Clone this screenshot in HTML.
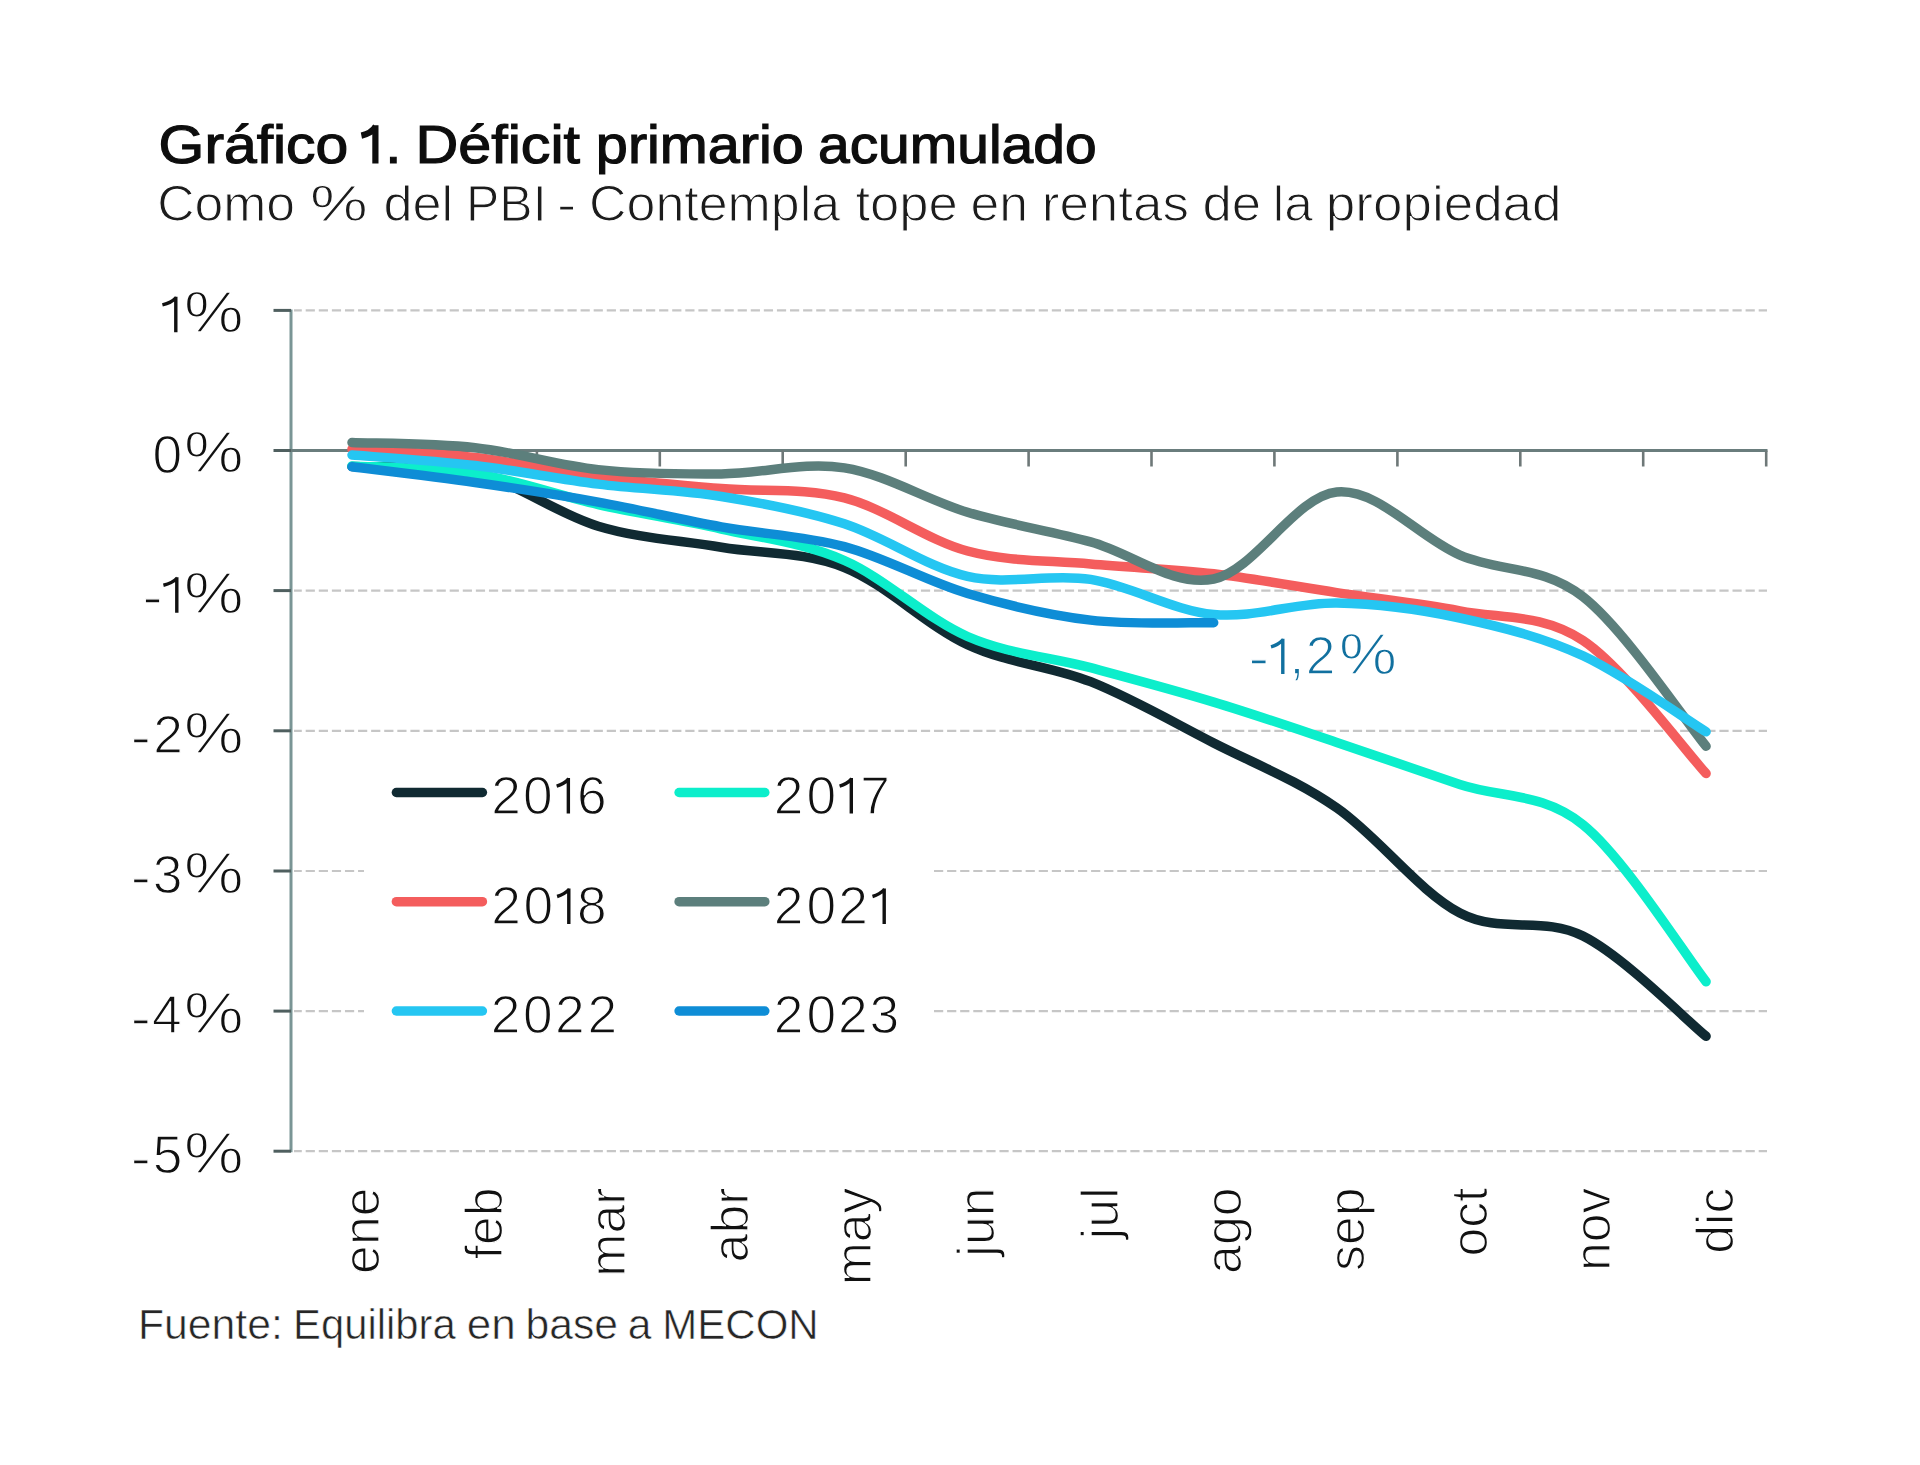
<!DOCTYPE html><html><head><meta charset="utf-8"><style>html,body{margin:0;padding:0;background:#fff;}body{width:1920px;height:1465px;overflow:hidden;}svg{display:block;font-family:"Liberation Sans",sans-serif;}</style></head><body>
<svg width="1920" height="1465" viewBox="0 0 1920 1465">
<rect width="1920" height="1465" fill="#fff"/>
<g>
<text x="158.63" y="163.00" font-size="54.00" fill="#0d0d0d" stroke="#0d0d0d" stroke-width="1.2" textLength="189.64" lengthAdjust="spacingAndGlyphs">Gráfico</text>
<text x="385.25" y="163.00" font-size="54.00" fill="#0d0d0d" stroke="#0d0d0d" stroke-width="1.2" textLength="16.18" lengthAdjust="spacingAndGlyphs">.</text>
<text x="415.54" y="163.00" font-size="54.00" fill="#0d0d0d" stroke="#0d0d0d" stroke-width="1.2" textLength="164.52" lengthAdjust="spacingAndGlyphs">Déficit</text>
<text x="595.89" y="163.00" font-size="54.00" fill="#0d0d0d" stroke="#0d0d0d" stroke-width="1.2" textLength="207.93" lengthAdjust="spacingAndGlyphs">primario</text>
<text x="817.98" y="163.00" font-size="54.00" fill="#0d0d0d" stroke="#0d0d0d" stroke-width="1.2" textLength="278.62" lengthAdjust="spacingAndGlyphs">acumulado</text>
<path d="M375.4,163.4 V125.2 M375.9,126.2 Q371.5,133.5 361.4,135.6" fill="none" stroke="#0d0d0d" stroke-width="6.2"/>
<text x="157.23" y="221.30" font-size="50.60" fill="#1c1c1c" stroke="#fff" stroke-width="1.1" textLength="137.92" lengthAdjust="spacingAndGlyphs">Como</text>
<text x="309.94" y="221.30" font-size="50.60" fill="#1c1c1c" stroke="#fff" stroke-width="1.1" textLength="57.77" lengthAdjust="spacingAndGlyphs">%</text>
<text x="383.43" y="221.30" font-size="50.60" fill="#1c1c1c" stroke="#fff" stroke-width="1.1" textLength="69.65" lengthAdjust="spacingAndGlyphs">del</text>
<text x="466.10" y="221.30" font-size="50.60" fill="#1c1c1c" stroke="#fff" stroke-width="1.1" textLength="80.43" lengthAdjust="spacingAndGlyphs">PBI</text>
<text x="557.08" y="221.30" font-size="50.60" fill="#1c1c1c" stroke="#fff" stroke-width="1.1" textLength="19.23" lengthAdjust="spacingAndGlyphs">-</text>
<text x="589.01" y="221.30" font-size="50.60" fill="#1c1c1c" stroke="#fff" stroke-width="1.1" textLength="251.15" lengthAdjust="spacingAndGlyphs">Contempla</text>
<text x="855.46" y="221.30" font-size="50.60" fill="#1c1c1c" stroke="#fff" stroke-width="1.1" textLength="102.46" lengthAdjust="spacingAndGlyphs">tope</text>
<text x="970.46" y="221.30" font-size="50.60" fill="#1c1c1c" stroke="#fff" stroke-width="1.1" textLength="57.48" lengthAdjust="spacingAndGlyphs">en</text>
<text x="1041.74" y="221.30" font-size="50.60" fill="#1c1c1c" stroke="#fff" stroke-width="1.1" textLength="147.35" lengthAdjust="spacingAndGlyphs">rentas</text>
<text x="1202.44" y="221.30" font-size="50.60" fill="#1c1c1c" stroke="#fff" stroke-width="1.1" textLength="58.72" lengthAdjust="spacingAndGlyphs">de</text>
<text x="1272.74" y="221.30" font-size="50.60" fill="#1c1c1c" stroke="#fff" stroke-width="1.1" textLength="40.02" lengthAdjust="spacingAndGlyphs">la</text>
<text x="1325.83" y="221.30" font-size="50.60" fill="#1c1c1c" stroke="#fff" stroke-width="1.1" textLength="235.74" lengthAdjust="spacingAndGlyphs">propiedad</text>
<line x1="294" y1="310.4" x2="1767" y2="310.4" stroke="#c6c6c6" stroke-width="2.2" stroke-dasharray="9.2,3.89" stroke-dashoffset="1.4"/>
<line x1="294" y1="590.6" x2="1767" y2="590.6" stroke="#c6c6c6" stroke-width="2.2" stroke-dasharray="9.2,3.89" stroke-dashoffset="1.4"/>
<line x1="294" y1="730.8" x2="1767" y2="730.8" stroke="#c6c6c6" stroke-width="2.2" stroke-dasharray="9.2,3.89" stroke-dashoffset="1.4"/>
<line x1="294" y1="871.0" x2="1767" y2="871.0" stroke="#c6c6c6" stroke-width="2.2" stroke-dasharray="9.2,3.89" stroke-dashoffset="1.4"/>
<line x1="294" y1="1011.1" x2="1767" y2="1011.1" stroke="#c6c6c6" stroke-width="2.2" stroke-dasharray="9.2,3.89" stroke-dashoffset="1.4"/>
<line x1="294" y1="1151.2" x2="1767" y2="1151.2" stroke="#c6c6c6" stroke-width="2.2" stroke-dasharray="9.2,3.89" stroke-dashoffset="1.4"/>
<rect x="364" y="745" width="567" height="320" fill="#fff"/>
<line x1="291" y1="309.4" x2="291" y2="1152.2" stroke="#7a9595" stroke-width="3"/>
<line x1="273.5" y1="310.4" x2="291" y2="310.4" stroke="#4f5f5f" stroke-width="3"/>
<line x1="273.5" y1="450.5" x2="291" y2="450.5" stroke="#4f5f5f" stroke-width="3"/>
<line x1="273.5" y1="590.6" x2="291" y2="590.6" stroke="#4f5f5f" stroke-width="3"/>
<line x1="273.5" y1="730.8" x2="291" y2="730.8" stroke="#4f5f5f" stroke-width="3"/>
<line x1="273.5" y1="871.0" x2="291" y2="871.0" stroke="#4f5f5f" stroke-width="3"/>
<line x1="273.5" y1="1011.1" x2="291" y2="1011.1" stroke="#4f5f5f" stroke-width="3"/>
<line x1="273.5" y1="1151.2" x2="291" y2="1151.2" stroke="#4f5f5f" stroke-width="3"/>
<line x1="291" y1="450.5" x2="1767.5" y2="450.5" stroke="#6a7d7d" stroke-width="3"/>
<line x1="413.9" y1="450.5" x2="413.9" y2="466.5" stroke="#6e7878" stroke-width="2.6"/>
<line x1="536.9" y1="450.5" x2="536.9" y2="466.5" stroke="#6e7878" stroke-width="2.6"/>
<line x1="659.8" y1="450.5" x2="659.8" y2="466.5" stroke="#6e7878" stroke-width="2.6"/>
<line x1="782.7" y1="450.5" x2="782.7" y2="466.5" stroke="#6e7878" stroke-width="2.6"/>
<line x1="905.7" y1="450.5" x2="905.7" y2="466.5" stroke="#6e7878" stroke-width="2.6"/>
<line x1="1028.6" y1="450.5" x2="1028.6" y2="466.5" stroke="#6e7878" stroke-width="2.6"/>
<line x1="1151.5" y1="450.5" x2="1151.5" y2="466.5" stroke="#6e7878" stroke-width="2.6"/>
<line x1="1274.4" y1="450.5" x2="1274.4" y2="466.5" stroke="#6e7878" stroke-width="2.6"/>
<line x1="1397.4" y1="450.5" x2="1397.4" y2="466.5" stroke="#6e7878" stroke-width="2.6"/>
<line x1="1520.3" y1="450.5" x2="1520.3" y2="466.5" stroke="#6e7878" stroke-width="2.6"/>
<line x1="1643.2" y1="450.5" x2="1643.2" y2="466.5" stroke="#6e7878" stroke-width="2.6"/>
<line x1="1766.2" y1="450.5" x2="1766.2" y2="466.5" stroke="#6e7878" stroke-width="2.6"/>
<g transform="translate(0,332.35) scale(1,1.070) translate(0,-332.35)"><text x="183.96" y="332.35" font-size="53.30" fill="#111" stroke="#fff" stroke-width="1.30" textLength="59.58" lengthAdjust="spacingAndGlyphs">%</text></g>
<path d="M175.80,332.35 V296.85 M176.40,297.55 Q171.30,302.85 162.40,304.95" fill="none" stroke="#111" stroke-width="3.40" stroke-linecap="butt"/>
<g transform="translate(0,472.50) scale(1,1.070) translate(0,-472.50)"><text x="183.96" y="472.50" font-size="53.30" fill="#111" stroke="#fff" stroke-width="1.30" textLength="59.58" lengthAdjust="spacingAndGlyphs">%</text></g>
<text x="152.59" y="472.50" font-size="53.30" fill="#111" stroke="#fff" stroke-width="1.30">0</text>
<g transform="translate(0,612.65) scale(1,1.070) translate(0,-612.65)"><text x="183.96" y="612.65" font-size="53.30" fill="#111" stroke="#fff" stroke-width="1.30" textLength="59.58" lengthAdjust="spacingAndGlyphs">%</text></g>
<path d="M176.80,612.65 V577.15 M177.40,577.85 Q172.30,583.15 163.40,585.25" fill="none" stroke="#111" stroke-width="3.40" stroke-linecap="butt"/>
<text x="142.47" y="615.05" font-size="53.30" fill="#111" stroke="#fff" stroke-width="1.30" textLength="20.05" lengthAdjust="spacingAndGlyphs">-</text>
<g transform="translate(0,752.80) scale(1,1.070) translate(0,-752.80)"><text x="183.96" y="752.80" font-size="53.30" fill="#111" stroke="#fff" stroke-width="1.30" textLength="59.58" lengthAdjust="spacingAndGlyphs">%</text></g>
<text x="153.19" y="752.80" font-size="53.30" fill="#111" stroke="#fff" stroke-width="1.30">2</text>
<text x="130.67" y="755.20" font-size="53.30" fill="#111" stroke="#fff" stroke-width="1.30" textLength="20.05" lengthAdjust="spacingAndGlyphs">-</text>
<g transform="translate(0,892.95) scale(1,1.070) translate(0,-892.95)"><text x="183.96" y="892.95" font-size="53.30" fill="#111" stroke="#fff" stroke-width="1.30" textLength="59.58" lengthAdjust="spacingAndGlyphs">%</text></g>
<text x="152.85" y="892.95" font-size="53.30" fill="#111" stroke="#fff" stroke-width="1.30">3</text>
<text x="130.67" y="895.35" font-size="53.30" fill="#111" stroke="#fff" stroke-width="1.30" textLength="20.05" lengthAdjust="spacingAndGlyphs">-</text>
<g transform="translate(0,1033.10) scale(1,1.070) translate(0,-1033.10)"><text x="183.96" y="1033.10" font-size="53.30" fill="#111" stroke="#fff" stroke-width="1.30" textLength="59.58" lengthAdjust="spacingAndGlyphs">%</text></g>
<text x="152.07" y="1033.10" font-size="53.30" fill="#111" stroke="#fff" stroke-width="1.30">4</text>
<text x="130.67" y="1035.50" font-size="53.30" fill="#111" stroke="#fff" stroke-width="1.30" textLength="20.05" lengthAdjust="spacingAndGlyphs">-</text>
<g transform="translate(0,1173.25) scale(1,1.070) translate(0,-1173.25)"><text x="183.96" y="1173.25" font-size="53.30" fill="#111" stroke="#fff" stroke-width="1.30" textLength="59.58" lengthAdjust="spacingAndGlyphs">%</text></g>
<text x="152.75" y="1173.25" font-size="53.30" fill="#111" stroke="#fff" stroke-width="1.30">5</text>
<text x="130.67" y="1175.65" font-size="53.30" fill="#111" stroke="#fff" stroke-width="1.30" textLength="20.05" lengthAdjust="spacingAndGlyphs">-</text>
<text transform="translate(378.9,1187.5) rotate(-90)" x="0" y="0" font-size="51.8" fill="#111" stroke="#fff" stroke-width="1.30" text-anchor="end">ene</text>
<text transform="translate(502.0,1187.5) rotate(-90)" x="0" y="0" font-size="51.8" fill="#111" stroke="#fff" stroke-width="1.30" text-anchor="end">feb</text>
<text transform="translate(625.1,1187.5) rotate(-90)" x="0" y="0" font-size="51.8" fill="#111" stroke="#fff" stroke-width="1.30" text-anchor="end">mar</text>
<text transform="translate(748.2,1187.5) rotate(-90)" x="0" y="0" font-size="51.8" fill="#111" stroke="#fff" stroke-width="1.30" text-anchor="end">abr</text>
<text transform="translate(871.3,1187.5) rotate(-90)" x="0" y="0" font-size="51.8" fill="#111" stroke="#fff" stroke-width="1.30" text-anchor="end">may</text>
<text transform="translate(994.4,1187.5) rotate(-90)" x="0" y="0" font-size="51.8" fill="#111" stroke="#fff" stroke-width="1.30" text-anchor="end">jun</text>
<text transform="translate(1117.5,1187.5) rotate(-90)" x="0" y="0" font-size="51.8" fill="#111" stroke="#fff" stroke-width="1.30" text-anchor="end">jul</text>
<text transform="translate(1240.6,1187.5) rotate(-90)" x="0" y="0" font-size="51.8" fill="#111" stroke="#fff" stroke-width="1.30" text-anchor="end">ago</text>
<text transform="translate(1363.7,1187.5) rotate(-90)" x="0" y="0" font-size="51.8" fill="#111" stroke="#fff" stroke-width="1.30" text-anchor="end">sep</text>
<text transform="translate(1486.8,1187.5) rotate(-90)" x="0" y="0" font-size="51.8" fill="#111" stroke="#fff" stroke-width="1.30" text-anchor="end">oct</text>
<text transform="translate(1609.9,1187.5) rotate(-90)" x="0" y="0" font-size="51.8" fill="#111" stroke="#fff" stroke-width="1.30" text-anchor="end">nov</text>
<text transform="translate(1733.0,1187.5) rotate(-90)" x="0" y="0" font-size="51.8" fill="#111" stroke="#fff" stroke-width="1.30" text-anchor="end">dic</text>
<path d="M352.0,466.6 C372.5,467.7 434.1,463.0 475.1,472.9 C516.1,482.9 557.2,513.8 598.2,526.2 C639.2,538.6 680.3,540.3 721.3,547.2 C762.3,554.1 803.4,551.3 844.4,567.5 C885.4,583.8 926.5,625.7 967.5,644.7 C1008.5,663.8 1049.6,665.4 1090.6,681.7 C1131.6,698.1 1172.7,722.0 1213.7,743.0 C1254.7,764.0 1295.8,779.5 1336.8,807.9 C1377.8,836.2 1418.9,891.6 1459.9,913.0 C1500.9,934.4 1542.0,915.6 1583.0,936.1 C1624.0,956.7 1685.6,1019.6 1706.1,1036.3" fill="none" stroke="#102a32" stroke-width="9.5" stroke-linecap="round" stroke-linejoin="round"/>
<path d="M352.0,465.9 C372.5,467.2 434.1,467.2 475.1,473.6 C516.1,480.0 557.2,495.2 598.2,504.5 C639.2,513.7 680.3,519.6 721.3,529.0 C762.3,538.3 803.4,542.6 844.4,560.5 C885.4,578.4 926.5,618.6 967.5,636.5 C1008.5,654.3 1049.6,656.8 1090.6,667.7 C1131.6,678.7 1172.7,689.6 1213.7,702.1 C1254.7,714.5 1295.8,728.7 1336.8,742.4 C1377.8,756.2 1418.9,770.8 1459.9,784.5 C1500.9,798.2 1542.0,791.8 1583.0,824.7 C1624.0,857.6 1685.6,955.5 1706.1,981.7" fill="none" stroke="#0ceecb" stroke-width="9.5" stroke-linecap="round" stroke-linejoin="round"/>
<path d="M352.0,449.1 C372.5,450.5 434.1,452.9 475.1,457.5 C516.1,462.1 557.2,471.7 598.2,476.8 C639.2,482.0 680.3,485.1 721.3,488.6 C762.3,492.1 803.4,487.5 844.4,497.9 C885.4,508.3 926.5,540.0 967.5,551.0 C1008.5,562.0 1049.6,560.2 1090.6,564.0 C1131.6,567.8 1172.7,569.1 1213.7,573.8 C1254.7,578.6 1295.8,586.4 1336.8,592.6 C1377.8,598.8 1418.9,602.8 1459.9,610.8 C1500.9,618.8 1542.0,613.4 1583.0,640.5 C1624.0,667.7 1685.6,751.4 1706.1,773.5" fill="none" stroke="#f45d5d" stroke-width="9.5" stroke-linecap="round" stroke-linejoin="round"/>
<path d="M352.0,442.5 C372.5,443.4 434.1,443.2 475.1,447.7 C516.1,452.2 557.2,465.2 598.2,469.6 C639.2,473.9 680.3,474.2 721.3,473.9 C762.3,473.6 803.4,461.5 844.4,467.9 C885.4,474.3 926.5,499.8 967.5,512.2 C1008.5,524.5 1049.6,530.7 1090.6,541.9 C1131.6,553.0 1172.7,587.3 1213.7,579.0 C1254.7,570.7 1295.8,496.0 1336.8,492.0 C1377.8,488.0 1418.9,537.6 1459.9,555.1 C1500.9,572.5 1542.0,565.0 1583.0,596.8 C1624.0,628.7 1685.6,721.3 1706.1,746.2" fill="none" stroke="#5c7f7c" stroke-width="9.5" stroke-linecap="round" stroke-linejoin="round"/>
<path d="M352.0,455.0 C372.5,456.7 434.1,460.6 475.1,465.5 C516.1,470.4 557.2,479.0 598.2,484.1 C639.2,489.3 680.3,489.9 721.3,496.5 C762.3,503.1 803.4,510.5 844.4,523.8 C885.4,537.1 926.5,567.1 967.5,576.4 C1008.5,585.6 1049.6,573.1 1090.6,579.4 C1131.6,585.8 1172.7,610.6 1213.7,614.5 C1254.7,618.4 1295.8,602.4 1336.8,603.0 C1377.8,603.6 1418.9,609.2 1459.9,618.0 C1500.9,626.8 1542.0,636.9 1583.0,655.8 C1624.0,674.8 1685.6,719.1 1706.1,731.8" fill="none" stroke="#25c6f2" stroke-width="9.5" stroke-linecap="round" stroke-linejoin="round"/>
<path d="M352.0,466.8 C372.5,469.4 434.1,476.6 475.1,482.5 C516.1,488.3 557.2,494.7 598.2,502.1 C639.2,509.5 680.3,519.5 721.3,526.9 C762.3,534.3 803.4,535.5 844.4,546.6 C885.4,557.7 926.5,581.2 967.5,593.5 C1008.5,605.7 1049.6,615.2 1090.6,620.1 C1131.6,625.0 1193.2,622.3 1213.7,622.7" fill="none" stroke="#0e8dd6" stroke-width="9.5" stroke-linecap="round" stroke-linejoin="round"/>
<text x="1248.40" y="676.40" font-size="53.30" fill="#11709f" stroke="#fff" stroke-width="1.30" textLength="20.60" lengthAdjust="spacingAndGlyphs">-</text>
<path d="M1282.80,674.00 V638.80 M1283.40,639.50 Q1278.30,644.80 1271.00,646.90" fill="none" stroke="#11709f" stroke-width="3.40" stroke-linecap="butt"/>
<text x="1289.46" y="674.00" font-size="53.30" fill="#11709f" stroke="#fff" stroke-width="1.30">,</text>
<text x="1305.87" y="674.00" font-size="53.30" fill="#11709f" stroke="#fff" stroke-width="1.30">2</text>
<g transform="translate(0,674.00) scale(1,1.070) translate(0,-674.00)"><text x="1338.93" y="674.00" font-size="53.30" fill="#11709f" stroke="#fff" stroke-width="1.30" textLength="57.95" lengthAdjust="spacingAndGlyphs">%</text></g>
<line x1="396.4" y1="792.5" x2="482.4" y2="792.5" stroke="#102a32" stroke-width="9.5" stroke-linecap="round"/>
<text x="491.27" y="813.60" font-size="53.30" fill="#111" stroke="#fff" stroke-width="1.30">2</text>
<text x="523.07" y="813.60" font-size="53.30" fill="#111" stroke="#fff" stroke-width="1.30">0</text>
<path d="M568.35,813.60 V778.10 M568.95,778.80 Q563.85,784.10 556.65,786.20" fill="none" stroke="#111" stroke-width="3.40" stroke-linecap="butt"/>
<text x="577.04" y="813.60" font-size="53.30" fill="#111" stroke="#fff" stroke-width="1.30">6</text>
<line x1="679.1" y1="792.5" x2="764.8" y2="792.5" stroke="#0ceecb" stroke-width="9.5" stroke-linecap="round"/>
<text x="773.77" y="813.60" font-size="53.30" fill="#111" stroke="#fff" stroke-width="1.30">2</text>
<text x="806.47" y="813.60" font-size="53.30" fill="#111" stroke="#fff" stroke-width="1.30">0</text>
<path d="M851.30,813.60 V778.10 M851.90,778.80 Q846.80,784.10 839.60,786.20" fill="none" stroke="#111" stroke-width="3.40" stroke-linecap="butt"/>
<text x="860.37" y="813.60" font-size="53.30" fill="#111" stroke="#fff" stroke-width="1.30">7</text>
<line x1="396.4" y1="901.7" x2="482.4" y2="901.7" stroke="#f45d5d" stroke-width="9.5" stroke-linecap="round"/>
<text x="491.27" y="923.90" font-size="53.30" fill="#111" stroke="#fff" stroke-width="1.30">2</text>
<text x="523.52" y="923.90" font-size="53.30" fill="#111" stroke="#fff" stroke-width="1.30">0</text>
<path d="M568.80,923.90 V888.40 M569.40,889.10 Q564.30,894.40 557.10,896.50" fill="none" stroke="#111" stroke-width="3.40" stroke-linecap="butt"/>
<text x="577.03" y="923.90" font-size="53.30" fill="#111" stroke="#fff" stroke-width="1.30">8</text>
<line x1="679.1" y1="901.7" x2="764.8" y2="901.7" stroke="#5c7f7c" stroke-width="9.5" stroke-linecap="round"/>
<text x="773.77" y="923.90" font-size="53.30" fill="#111" stroke="#fff" stroke-width="1.30">2</text>
<text x="806.47" y="923.90" font-size="53.30" fill="#111" stroke="#fff" stroke-width="1.30">0</text>
<text x="838.37" y="923.90" font-size="53.30" fill="#111" stroke="#fff" stroke-width="1.30">2</text>
<path d="M884.20,923.90 V888.40 M884.80,889.10 Q879.70,894.40 872.50,896.50" fill="none" stroke="#111" stroke-width="3.40" stroke-linecap="butt"/>
<line x1="396.4" y1="1011.0" x2="482.4" y2="1011.0" stroke="#25c6f2" stroke-width="9.5" stroke-linecap="round"/>
<text x="490.87" y="1032.70" font-size="53.30" fill="#111" stroke="#fff" stroke-width="1.30">2</text>
<text x="523.07" y="1032.70" font-size="53.30" fill="#111" stroke="#fff" stroke-width="1.30">0</text>
<text x="554.97" y="1032.70" font-size="53.30" fill="#111" stroke="#fff" stroke-width="1.30">2</text>
<text x="587.47" y="1032.70" font-size="53.30" fill="#111" stroke="#fff" stroke-width="1.30">2</text>
<line x1="679.1" y1="1011.0" x2="764.8" y2="1011.0" stroke="#0e8dd6" stroke-width="9.5" stroke-linecap="round"/>
<text x="773.77" y="1032.70" font-size="53.30" fill="#111" stroke="#fff" stroke-width="1.30">2</text>
<text x="806.47" y="1032.70" font-size="53.30" fill="#111" stroke="#fff" stroke-width="1.30">0</text>
<text x="837.92" y="1032.70" font-size="53.30" fill="#111" stroke="#fff" stroke-width="1.30">2</text>
<text x="869.42" y="1032.70" font-size="53.30" fill="#111" stroke="#fff" stroke-width="1.30">3</text>
<text x="138.00" y="1339.00" font-size="42.40" fill="#262626" stroke="#fff" stroke-width="0.6" textLength="144.83" lengthAdjust="spacingAndGlyphs">Fuente:</text>
<text x="293.07" y="1339.00" font-size="42.40" fill="#262626" stroke="#fff" stroke-width="0.6" textLength="162.64" lengthAdjust="spacingAndGlyphs">Equilibra</text>
<text x="466.81" y="1339.00" font-size="42.40" fill="#262626" stroke="#fff" stroke-width="0.6" textLength="48.94" lengthAdjust="spacingAndGlyphs">en</text>
<text x="525.55" y="1339.00" font-size="42.40" fill="#262626" stroke="#fff" stroke-width="0.6" textLength="92.46" lengthAdjust="spacingAndGlyphs">base</text>
<text x="627.74" y="1339.00" font-size="42.40" fill="#262626" stroke="#fff" stroke-width="0.6" textLength="23.72" lengthAdjust="spacingAndGlyphs">a</text>
<text x="662.25" y="1339.00" font-size="42.40" fill="#262626" stroke="#fff" stroke-width="0.6" textLength="156.48" lengthAdjust="spacingAndGlyphs">MECON</text>
</g></svg></body></html>
